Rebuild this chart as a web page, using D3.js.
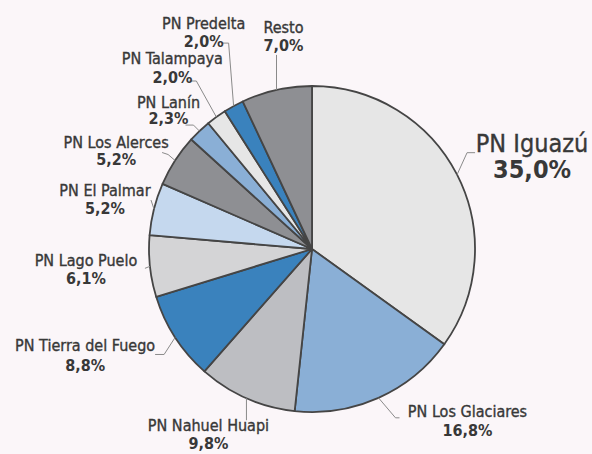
<!DOCTYPE html>
<html>
<head>
<meta charset="utf-8">
<script src="https://cdn.jsdelivr.net/npm/d3@7"></script>
<style>
  body { margin: 0; background: #fbf6f9; }
  svg { display: block; }
  text { font-family: "DejaVu Sans Condensed", "DejaVu Sans", sans-serif; font-stretch: condensed; fill: #383838; }
  tspan.name { stroke: #383838; stroke-width: 0.35px; }
</style>
</head>
<body>
<svg width="592" height="454"></svg>
<script>
// parques nacionales, share of visitors
const parks = ["PN Iguazú", "PN Los Glaciares", "PN Nahuel Huapi", "PN Tierra del Fuego",
  "PN Lago Puelo", "PN El Palmar", "PN Los Alerces", "PN Lanín", "PN Talampaya",
  "PN Predelta", "Resto"];
const shares = [35.0, 16.8, 9.8, 8.8, 6.1, 5.2, 5.2, 2.3, 2.0, 2.0, 7.0];
const shareLabels = ["35,0%", "16,8%", "9,8%", "8,8%", "6,1%", "5,2%", "5,2%", "2,3%", "2,0%", "2,0%", "7,0%"];

const colors = ["#e6e6e6", "#8aafd6", "#bdbec2", "#3a82bd", "#d4d4d6", "#c5d8ee",
  "#8e8f93", "#8aafd6", "#e6e6e6", "#3a82bd", "#8e8f93"];

// label placement relative to the slice's edge point: leader bends + text offset
const labelLayout = [
  { leader: [[0, 0], [10, -22], [18, -22]], dx: 75, dy: -23, size: 25, lh: 26 },
  { leader: [[0, 0], [17, 20], [21, 20]], dx: 89, dy: 19, size: 16, lh: 19 },
  { leader: [[0, 0], [0, 22]], dx: -38, dy: 33, size: 16, lh: 18 },
  { leader: [[0, 0], [-11, 17], [-20, 17]], dx: -90, dy: 14, size: 16, lh: 20 },
  { leader: [[0, 0], [-5, 2]], dx: -64, dy: 0, size: 16, lh: 18 },
  { leader: [[0, 0], [-3, -9]], dx: -49, dy: -13, size: 16, lh: 18 },
  { leader: [[0, 0], [-7, -6], [-13, -8]], dx: -59, dy: -12.5, size: 16, lh: 17 },
  { leader: [[0, 0], [-6, -6], [-14, -6]], dx: -31, dy: -23, size: 16, lh: 16 },
  { leader: [[0, 0], [-20, -36], [-27, -36]], dx: -44, dy: -53, size: 16, lh: 19 },
  { leader: [[0, 0], [-5, -63], [-12, -63]], dx: -30, dy: -77, size: 16, lh: 18 },
  { leader: [[0, 0], [0, -35]], dx: 7, dy: -57, size: 16, lh: 18 },
];

const cx = 312, cy = 249, radius = 163;

const svg = d3.select("svg");
const g = svg.append("g").attr("transform", `translate(${cx},${cy})`);

const pie = d3.pie().sort(null).value(d => d);
const arcs = pie(shares);

const arc = d3.arc().innerRadius(0).outerRadius(radius);

g.selectAll("path.slice")
  .data(arcs)
  .enter()
  .append("path")
  .attr("class", "slice")
  .attr("d", arc)
  .style("fill", (d, i) => colors[i])
  .style("stroke", "#454545")
  .style("stroke-width", 1.8)
  .style("stroke-linejoin", "round");

function edgePoint(d) {
  const a = (d.startAngle + d.endAngle) / 2;
  return [radius * Math.sin(a), -radius * Math.cos(a)];
}

const line = d3.line();

// leader lines
g.selectAll("path.leader")
  .data(arcs)
  .enter()
  .append("path")
  .attr("class", "leader")
  .attr("d", function (d, i) {
    const p = edgePoint(d);
    return line(labelLayout[i].leader.map(o => [p[0] + o[0], p[1] + o[1]]));
  })
  .style("fill", "none")
  .style("stroke", "#8a8a8a")
  .style("stroke-width", 1);

// labels
const labels = g.selectAll("text.label")
  .data(arcs)
  .enter()
  .append("text")
  .attr("class", "label")
  .attr("text-anchor", "middle")
  .attr("transform", function (d, i) {
    const p = edgePoint(d);
    return `translate(${p[0] + labelLayout[i].dx},${p[1] + labelLayout[i].dy})`;
  })
  .style("font-size", (d, i) => labelLayout[i].size + "px");

labels.append("tspan")
  .attr("class", "name")
  .attr("x", 0)
  .text((d, i) => parks[i]);

labels.append("tspan")
  .attr("x", 0)
  .attr("dy", (d, i) => labelLayout[i].lh)
  .style("font-weight", "bold")
  .text((d, i) => shareLabels[i]);
</script>
</body>
</html>
